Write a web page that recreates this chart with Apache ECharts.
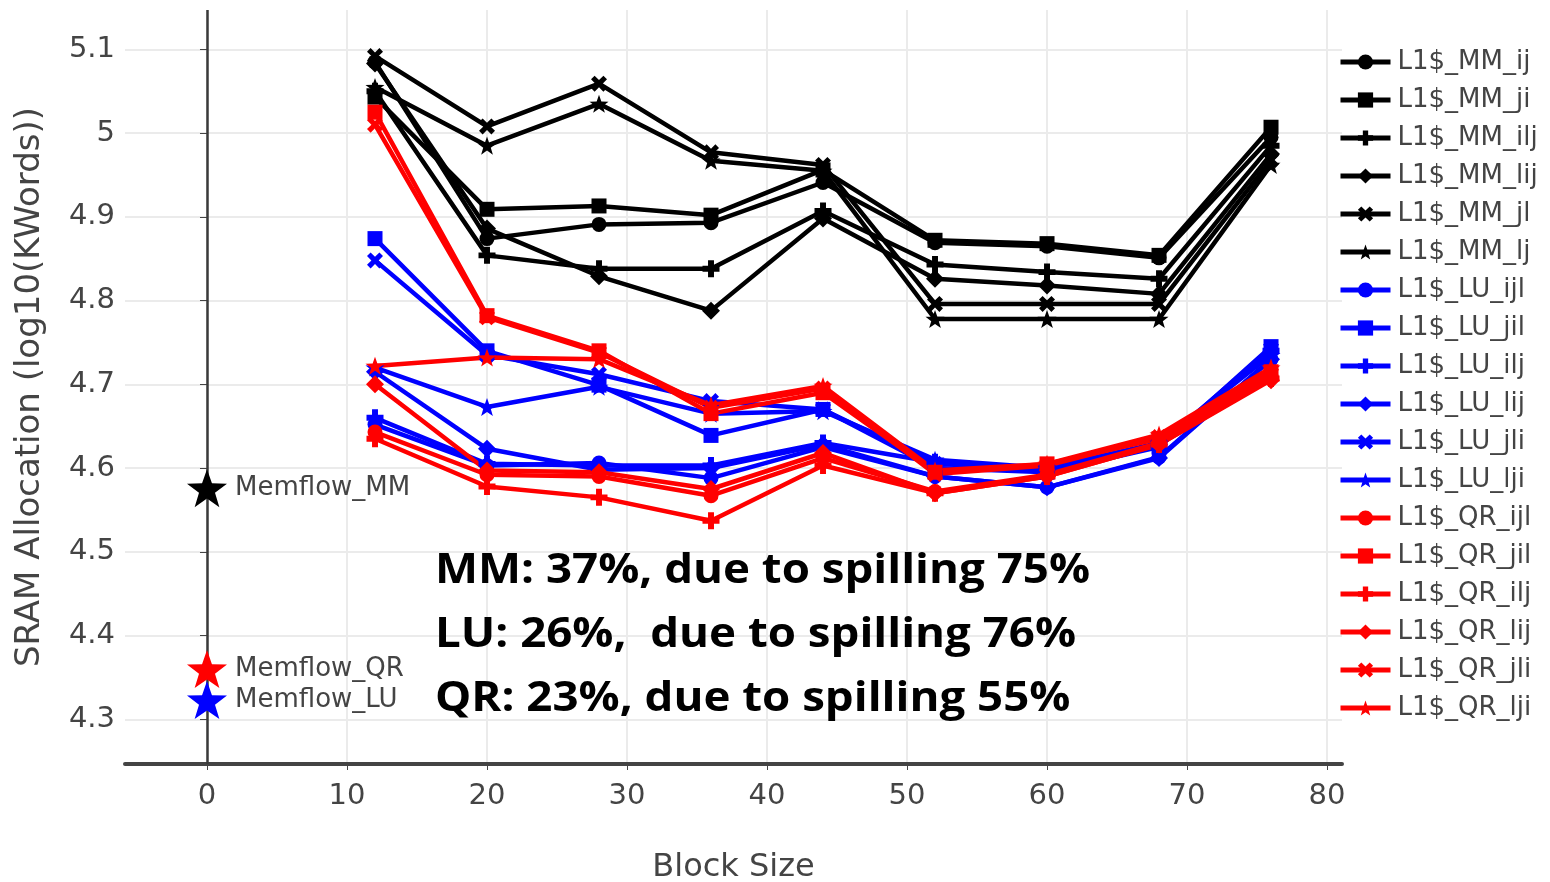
<!DOCTYPE html>
<html>
<head>
<meta charset="utf-8">
<script src="https://cdn.jsdelivr.net/npm/echarts@6/dist/echarts.min.js"></script>
<style>
html,body{margin:0;padding:0;background:#fff;}
#chart{width:1550px;height:882px;}
</style>
</head>
<body>
<div id="chart"></div>
<script>
// ---------- data ----------
const blockSizes = [12, 20, 28, 36, 44, 52, 60, 68, 76];

const mm_ij  = [5.085, 4.874, 4.891, 4.893, 4.941, 4.869, 4.865, 4.851, 4.995];
const mm_ji  = [5.043, 4.909, 4.913, 4.902, 4.956, 4.872, 4.868, 4.854, 5.007];
const mm_ilj = [5.050, 4.854, 4.838, 4.838, 4.907, 4.843, 4.834, 4.826, 4.985];
const mm_lij = [5.083, 4.886, 4.829, 4.788, 4.898, 4.826, 4.818, 4.808, 4.975];
const mm_jl  = [5.092, 5.008, 5.059, 4.977, 4.962, 4.796, 4.796, 4.796, 4.968];
const mm_lj  = [5.055, 4.985, 5.035, 4.967, 4.955, 4.778, 4.778, 4.778, 4.962];

const lu_ijl = [4.652, 4.603, 4.606, 4.588, 4.625, 4.590, 4.577, 4.613, 4.730];
const lu_jil = [4.874, 4.740, 4.699, 4.639, 4.670, 4.600, 4.595, 4.625, 4.745];
const lu_ilj = [4.660, 4.605, 4.603, 4.603, 4.630, 4.607, 4.600, 4.627, 4.740];
const lu_lij = [4.715, 4.623, 4.598, 4.600, 4.628, 4.590, 4.577, 4.612, 4.730];
const lu_jli = [4.848, 4.735, 4.712, 4.680, 4.670, 4.605, 4.598, 4.628, 4.742];
const lu_lji = [4.720, 4.673, 4.697, 4.665, 4.668, 4.610, 4.600, 4.630, 4.735];

const qr_ijl = [4.643, 4.592, 4.590, 4.567, 4.612, 4.572, 4.592, 4.630, 4.710];
const qr_jil = [5.025, 4.782, 4.740, 4.665, 4.690, 4.595, 4.605, 4.635, 4.715];
const qr_ilj = [4.635, 4.578, 4.565, 4.537, 4.603, 4.570, 4.590, 4.628, 4.707];
const qr_lij = [4.700, 4.597, 4.595, 4.575, 4.618, 4.570, 4.590, 4.628, 4.705];
const qr_jli = [5.010, 4.780, 4.738, 4.672, 4.695, 4.593, 4.603, 4.637, 4.712];
const qr_lji = [4.722, 4.732, 4.730, 4.675, 4.698, 4.597, 4.605, 4.640, 4.720];

const memflowX = 0;
const memflowNames = ['Memflow_MM', 'Memflow_QR', 'Memflow_LU'];
const memflowValues = [4.576, 4.360, 4.323];

const xTicks = [0, 10, 20, 30, 40, 50, 60, 70, 80];
const yTicks = [4.3, 4.4, 4.5, 4.6, 4.7, 4.8, 4.9, 5.0, 5.1];

const noteLines = [
  'MM: 37%, due to spilling 75%',
  'LU: 26%,  due to spilling 76%',
  'QR: 23%, due to spilling 55%'
];

// ---------- styles ----------
const SYM = {
  circle: 'circle',
  square: 'rect',
  diamond: 'diamond',
  cross: 'path://M-1.4,-4H1.4V-1.4H4V1.4H1.4V4H-1.4V1.4H-4V-1.4H-1.4Z',
  x: 'path://M-4,-2.2L-2.2,-4L0,-1.8L2.2,-4L4,-2.2L1.8,0L4,2.2L2.2,4L0,1.8L-2.2,4L-4,2.2L-1.8,0Z',
  star: 'path://M0,-10L2.35,-3.24L9.51,-3.09L3.8,1.24L5.88,8.09L0,4L-5.88,8.09L-3.8,1.24L-9.51,-3.09L-2.35,-3.24Z'
};
const SIZE = {circle: 15, square: 15, diamond: 18, cross: 17, x: 16, star: 19};
const FONT = '"DejaVu Sans", Verdana, sans-serif';
const TXT = '#444';

const groups = [
  {prefix: 'L1$_MM_', color: '#000000', items: [
    ['ij', mm_ij, 'circle'], ['ji', mm_ji, 'square'], ['ilj', mm_ilj, 'cross'],
    ['lij', mm_lij, 'diamond'], ['jl', mm_jl, 'x'], ['lj', mm_lj, 'star']]},
  {prefix: 'L1$_LU_', color: '#0000ff', items: [
    ['ijl', lu_ijl, 'circle'], ['jil', lu_jil, 'square'], ['ilj', lu_ilj, 'cross'],
    ['lij', lu_lij, 'diamond'], ['jli', lu_jli, 'x'], ['lji', lu_lji, 'star']]},
  {prefix: 'L1$_QR_', color: '#ff0000', items: [
    ['ijl', qr_ijl, 'circle'], ['jil', qr_jil, 'square'], ['ilj', qr_ilj, 'cross'],
    ['lij', qr_lij, 'diamond'], ['jli', qr_jli, 'x'], ['lji', qr_lji, 'star']]}
];

const series = [];
const legendNames = [];
groups.forEach(g => {
  g.items.forEach(([suffix, vals, sym]) => {
    const name = g.prefix + suffix;
    legendNames.push(name);
    series.push({
      name: name,
      type: 'line',
      data: blockSizes.map((b, i) => [b, vals[i]]),
      symbol: SYM[sym],
      symbolSize: SIZE[sym],
      symbolKeepAspect: true,
      showAllSymbol: true,
      lineStyle: {color: g.color, width: 4.5},
      itemStyle: {color: g.color, borderWidth: 0, opacity: 1},
      emphasis: {disabled: true},
      z: 3
    });
  });
});

// zero line on x = 0
series[0].markLine = {
  silent: true,
  symbol: ['none', 'none'],
  label: {show: false},
  lineStyle: {color: '#3a3a3a', width: 2.5, type: 'solid'},
  data: [{xAxis: 0}],
  z: 2
};

const memflowColors = ['#000000', '#ff0000', '#0000ff'];
memflowNames.forEach((n, i) => {
  series.push({
    name: n,
    type: 'scatter',
    data: [[memflowX, memflowValues[i]]],
    symbol: SYM.star,
    symbolSize: 40,
    symbolKeepAspect: true,
    itemStyle: {color: memflowColors[i], opacity: 1},
    label: {show: true, position: 'right', distance: 8, formatter: n,
            color: TXT, fontSize: 26, fontFamily: FONT},
    emphasis: {disabled: true},
    z: 4
  });
});

// annotation scaling
const mctx = document.createElement('canvas').getContext('2d');
const noteFont = 'bold 42px "Open Sans"';
mctx.font = noteFont;
const noteScale = 655 / mctx.measureText(noteLines[0]).width;
const noteY = [571, 635, 699];

const chart = echarts.init(document.getElementById('chart'), null, {renderer: 'canvas'});
chart.setOption({
  animation: false,
  backgroundColor: '#ffffff',
  grid: {left: 125, right: 208, top: 10, bottom: 118, containLabel: false, outerBoundsMode: 'none'},
  xAxis: {
    type: 'value', min: -5.857, max: 81.07,
    name: 'Block Size', nameLocation: 'middle', nameGap: 88,
    nameTextStyle: {color: TXT, fontSize: 32, fontFamily: FONT},
    axisLine: {show: true, onZero: false, lineStyle: {color: '#444', width: 4}},
    axisTick: {show: true, customValues: xTicks, length: 6, lineStyle: {color: '#444', width: 1}},
    axisLabel: {customValues: xTicks, color: TXT, fontSize: 29, fontFamily: FONT, margin: 18},
    splitLine: {show: true, lineStyle: {color: '#ebebeb', width: 2}}
  },
  yAxis: {
    type: 'value', min: 4.2466, max: 5.147,
    name: 'SRAM Allocation (log10(KWords))', nameLocation: 'middle', nameGap: 78,
    nameTextStyle: {color: TXT, fontSize: 34, fontFamily: FONT},
    axisLine: {show: false},
    axisTick: {show: true, customValues: yTicks, length: 7, lineStyle: {color: '#444', width: 1}},
    axisLabel: {customValues: yTicks, color: TXT, fontSize: 29, fontFamily: FONT, margin: 10,
                formatter: v => String(+v.toFixed(1))},
    splitLine: {show: true, lineStyle: {color: '#ebebeb', width: 2}}
  },
  legend: {
    data: legendNames,
    orient: 'vertical',
    left: 1338, top: 49,
    itemWidth: 50, itemHeight: 19, itemGap: 12,
    lineStyle: {width: 5},
    textStyle: {color: TXT, fontSize: 26, fontFamily: FONT, lineHeight: 26, padding: [0, 0, 0, 2]},
    selectedMode: false,
    padding: 0
  },
  graphic: noteLines.map((t, i) => ({
    type: 'text',
    x: 435, y: noteY[i],
    scaleX: noteScale,
    silent: true,
    z: 10,
    style: {text: t, font: noteFont, fill: '#000', textAlign: 'left', textVerticalAlign: 'middle'}
  })),
  series: series
});
</script>
</body>
</html>
